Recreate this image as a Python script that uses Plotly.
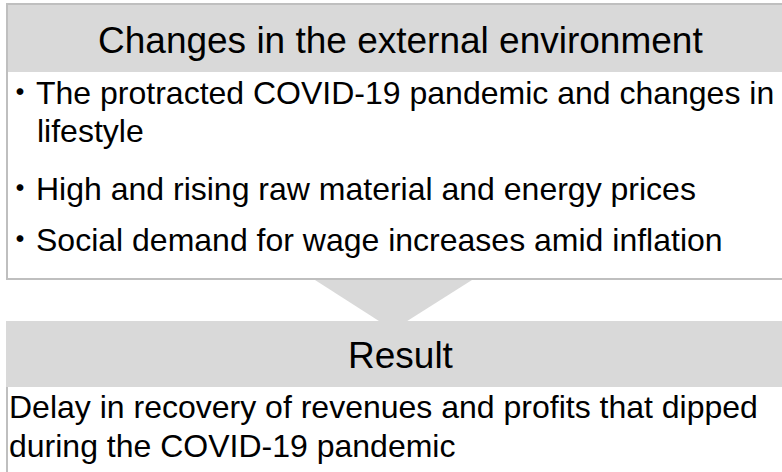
import plotly.graph_objects as go

# texts of the diagram
header_top = "Changes in the external environment"
bullets = [
    ["The protracted COVID-19 pandemic and changes in", "lifestyle"],
    ["High and rising raw material and energy prices"],
    ["Social demand for wage increases amid inflation"],
]
header_result = "Result"
result_lines = [
    "Delay in recovery of revenues and profits that dipped",
    "during the COVID-19 pandemic",
]

W, H = 782, 472
GRAY = "#d9d9d9"
EDGE = "#bfbfbf"
FONT = "Liberation Sans, Arial, Noto Sans CJK JP, sans-serif"

fig = go.Figure()

shapes = [
    # top box
    dict(type="rect", x0=7, x1=W + 20, y0=4, y1=279, fillcolor="white",
         line=dict(color=EDGE, width=2), layer="below"),
    dict(type="rect", x0=8, x1=W + 20, y0=5, y1=72, fillcolor=GRAY,
         line=dict(width=0), layer="below"),
    # arrow
    dict(type="path", path="M 315 280 L 472 280 L 393 330 Z", fillcolor=GRAY,
         line=dict(width=0), layer="below"),
    # result box
    dict(type="rect", x0=7, x1=W + 20, y0=322, y1=H + 20, fillcolor="white",
         line=dict(color=EDGE, width=2), layer="below"),
    dict(type="rect", x0=6, x1=W + 20, y0=321, y1=387, fillcolor=GRAY,
         line=dict(width=0), layer="below"),
]

annotations = []


def add_text(text, x, y, size, xanchor="left"):
    annotations.append(dict(
        text=text, x=x, y=y, xref="x", yref="y", xanchor=xanchor,
        yanchor="middle", showarrow=False,
        font=dict(family=FONT, size=size, color="black")))


add_text(header_top, 400, 40, 37, xanchor="center")

# bullet lines
bullet_y = [[93, 131], [189], [240]]
for lines, ys in zip(bullets, bullet_y):
    for i, (line, y) in enumerate(zip(lines, ys)):
        if i == 0:
            add_text("・" + line, 2, y, 32)
        else:
            add_text(line, 35, y, 32)

add_text(header_result, 401, 355, 37, xanchor="center")
for line, y in zip(result_lines, [407, 446]):
    add_text(line, 7, y, 32)

fig.update_layout(
    width=W, height=H,
    margin=dict(l=0, r=0, t=0, b=0),
    paper_bgcolor="white", plot_bgcolor="white",
    xaxis=dict(range=[0, W], visible=False, fixedrange=True),
    yaxis=dict(range=[H, 0], visible=False, fixedrange=True),
    shapes=shapes, annotations=annotations,
    showlegend=False,
)

fig.write_html("out.html", config={"displayModeBar": False},
               post_script="document.body.style.margin='0';")
